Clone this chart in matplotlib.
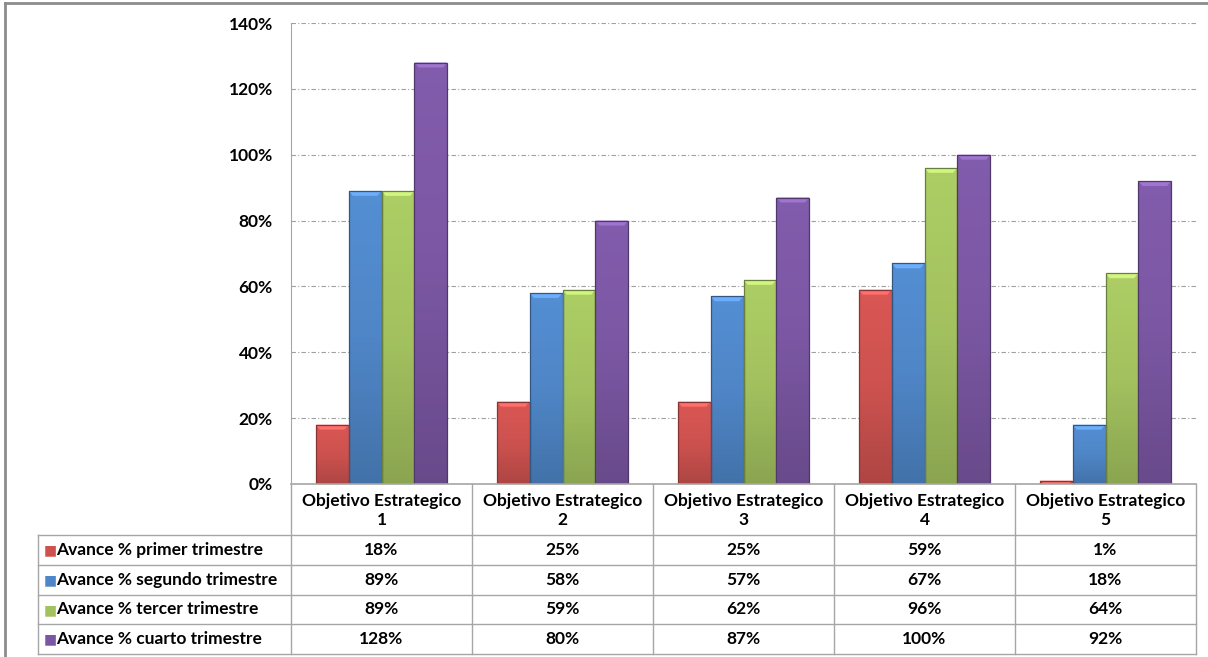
import matplotlib
matplotlib.use("Agg")
import matplotlib.pyplot as plt
import numpy as np
from matplotlib.colors import LinearSegmentedColormap, to_rgb
from matplotlib.patches import Rectangle, Polygon
from matplotlib.lines import Line2D

plt.rcParams['font.family'] = ['Lato', 'DejaVu Sans']

categories = ["Objetivo Estrategico\n1", "Objetivo Estrategico\n2", "Objetivo Estrategico\n3",
              "Objetivo Estrategico\n4", "Objetivo Estrategico\n5"]
series_names = ["Avance % primer trimestre", "Avance % segundo trimestre",
                "Avance % tercer trimestre", "Avance % cuarto trimestre"]
primer = [18, 25, 25, 59, 1]
segundo = [89, 58, 57, 67, 18]
tercer = [89, 59, 62, 96, 64]
cuarto = [128, 80, 87, 100, 92]
series_values = [primer, segundo, tercer, cuarto]
colors = ["#CD524F", "#4F86C7", "#A3C25F", "#7B57A3"]
yticks = [0, 20, 40, 60, 80, 100, 120, 140]

FS = 12.5
W, H = 1208, 657
fig = plt.figure(figsize=(W / 100, H / 100), dpi=100)

def fx(px):
    return px / W

def fy(py):
    return 1 - py / H

# outer border
fig.add_artist(Line2D([fx(5), fx(1208)], [fy(3), fy(3)], color="#8C8C8C", lw=2))
fig.add_artist(Line2D([fx(5), fx(5)], [fy(3), fy(657)], color="#8C8C8C", lw=2))

x_left, x_right = 291, 1196
y_top, y_bot = 23, 484
ax = fig.add_axes([fx(x_left), fy(y_bot), fx(x_right) - fx(x_left), fy(y_top) - fy(y_bot)])
ax.set_xlim(-0.5, 4.5)
ax.set_ylim(0, 140)
ax.set_yticks(yticks)
ax.set_yticklabels([f"{v}%" for v in yticks], fontsize=FS, fontweight="bold")
ax.tick_params(axis="y", length=0, pad=13)
ax.set_xticks([])
for s in ["top", "right", "bottom"]:
    ax.spines[s].set_visible(False)
ax.spines["left"].set_color("#A6A6A6")
ax.grid(axis="y", color="#A0A0A0", linestyle=(0, (4, 2, 1, 2)), linewidth=0.8)
ax.set_axisbelow(True)

x = np.arange(len(categories))
bw = 0.182
for i, (vals, c) in enumerate(zip(series_values, colors)):
    offs = (i - 1.5) * bw
    base = np.array(to_rgb(c))
    bars = ax.bar(x + offs, vals, width=bw, color=c, edgecolor="none", zorder=2)
    cmap = LinearSegmentedColormap.from_list(
        "g", [np.clip(base * 1.06, 0, 1), base, base * 0.85])
    for b in bars:
        bx, bwid, bh = b.get_x(), b.get_width(), b.get_height()
        grad = np.linspace(0, 1, 64).reshape(-1, 1)
        im = ax.imshow(grad, extent=[bx, bx + bwid, 0, bh], aspect="auto", cmap=cmap,
                       zorder=2.1, origin="upper")
        im.set_clip_path(b)
        d = min(1.5, bh)
        ins = bwid * 0.13
        ax.add_patch(Polygon([(bx, bh), (bx + bwid, bh), (bx + bwid - ins, bh - d),
                              (bx + ins, bh - d)], closed=True,
                             facecolor=np.clip(base * 1.2 + 0.05, 0, 1), edgecolor="none",
                             zorder=2.2))
        ax.add_patch(Rectangle((bx, 0), bwid, bh, facecolor="none",
                               edgecolor=base * 0.65, linewidth=0.9, zorder=2.3))
ax.set_xlim(-0.5, 4.5)
ax.set_ylim(0, 140)

# data table
t_left, t_bottom = 38, 654
tab = fig.add_axes([fx(t_left), fy(t_bottom), fx(x_right) - fx(t_left), fy(y_bot) - fy(t_bottom)])
lab_w = (x_left - t_left) / ((x_right - x_left) / 5)
tab.set_xlim(-0.5 - lab_w, 4.5)
tab.set_ylim(t_bottom - y_bot, 0)
tab.axis("off")
gc = "#A6A6A6"
hdr_h = 51
row_h = (t_bottom - y_bot - hdr_h) / 4
tab.plot([-0.5, 4.5], [0, 0], color=gc, lw=1.2, clip_on=False)
for r in range(5):
    yy = hdr_h + r * row_h
    tab.plot([-0.5 - lab_w, 4.5], [yy, yy], color=gc, lw=1, clip_on=False)
for k in range(6):
    tab.plot([k - 0.5, k - 0.5], [0, t_bottom - y_bot], color=gc, lw=1, clip_on=False)
tab.plot([-0.5 - lab_w, -0.5 - lab_w], [hdr_h, t_bottom - y_bot], color=gc, lw=1, clip_on=False)

for k, cat in enumerate(categories):
    tab.text(k, hdr_h / 2 + 1, cat, ha="center", va="center", fontsize=FS,
             fontweight="bold", linespacing=1.3)
for r, (name, vals, c) in enumerate(zip(series_names, series_values, colors)):
    yc = hdr_h + (r + 0.5) * row_h
    tab.text(-0.5 - lab_w + 0.03, yc + 0.5, "■", color=c, ha="left", va="center",
             fontsize=10, family="DejaVu Sans")
    tab.text(-0.5 - lab_w + 0.1, yc, name, ha="left", va="center", fontsize=FS,
             fontweight="bold")
    for k, v in enumerate(vals):
        tab.text(k, yc, f"{v}%", ha="center", va="center", fontsize=FS, fontweight="bold")

fig.savefig("out.png", dpi=100)
